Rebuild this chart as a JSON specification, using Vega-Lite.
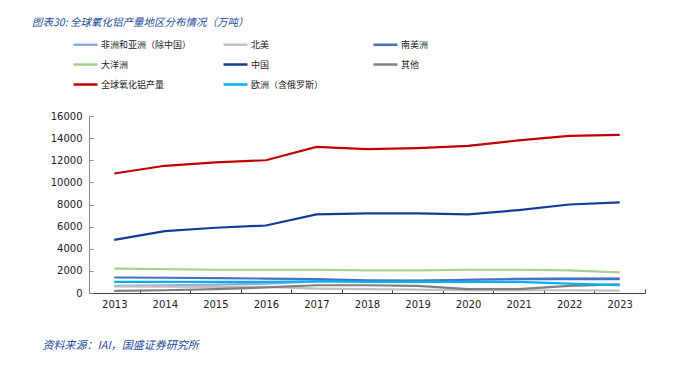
{
  "$schema": "https://vega.github.io/schema/vega-lite/v6.json",
  "width": 556,
  "height": 177,
  "autosize": {"type": "none"},
  "padding": {"left": 89, "top": 116, "right": 43, "bottom": 74},
  "background": "white",
  "config": {"view": {"stroke": null}},
  "title": {
    "text": "图表30: 全球氧化铝产量地区分布情况（万吨）",
    "anchor": "start",
    "frame": "group",
    "orient": "top",
    "dx": -57,
    "offset": -2,
    "baseline": "middle",
    "font": "Noto Sans CJK SC",
    "fontSize": 10.5,
    "fontStyle": "italic",
    "fontWeight": "normal",
    "color": "#1F4E99"
  },
  "datasets": {
    "rows": [
      {"year": "2013", "region": "非洲和亚洲（除中国）", "value": 650},
      {"year": "2014", "region": "非洲和亚洲（除中国）", "value": 700},
      {"year": "2015", "region": "非洲和亚洲（除中国）", "value": 750},
      {"year": "2016", "region": "非洲和亚洲（除中国）", "value": 850},
      {"year": "2017", "region": "非洲和亚洲（除中国）", "value": 1050},
      {"year": "2018", "region": "非洲和亚洲（除中国）", "value": 1100},
      {"year": "2019", "region": "非洲和亚洲（除中国）", "value": 1150},
      {"year": "2020", "region": "非洲和亚洲（除中国）", "value": 1200},
      {"year": "2021", "region": "非洲和亚洲（除中国）", "value": 1300},
      {"year": "2022", "region": "非洲和亚洲（除中国）", "value": 1350},
      {"year": "2023", "region": "非洲和亚洲（除中国）", "value": 1350},
      {"year": "2013", "region": "北美", "value": 600},
      {"year": "2014", "region": "北美", "value": 580},
      {"year": "2015", "region": "北美", "value": 550},
      {"year": "2016", "region": "北美", "value": 550},
      {"year": "2017", "region": "北美", "value": 400},
      {"year": "2018", "region": "北美", "value": 350},
      {"year": "2019", "region": "北美", "value": 300},
      {"year": "2020", "region": "北美", "value": 250},
      {"year": "2021", "region": "北美", "value": 250},
      {"year": "2022", "region": "北美", "value": 250},
      {"year": "2023", "region": "北美", "value": 210},
      {"year": "2013", "region": "南美洲", "value": 1400},
      {"year": "2014", "region": "南美洲", "value": 1380},
      {"year": "2015", "region": "南美洲", "value": 1350},
      {"year": "2016", "region": "南美洲", "value": 1300},
      {"year": "2017", "region": "南美洲", "value": 1250},
      {"year": "2018", "region": "南美洲", "value": 1150},
      {"year": "2019", "region": "南美洲", "value": 1100},
      {"year": "2020", "region": "南美洲", "value": 1200},
      {"year": "2021", "region": "南美洲", "value": 1250},
      {"year": "2022", "region": "南美洲", "value": 1250},
      {"year": "2023", "region": "南美洲", "value": 1250},
      {"year": "2013", "region": "大洋洲", "value": 2200},
      {"year": "2014", "region": "大洋洲", "value": 2150},
      {"year": "2015", "region": "大洋洲", "value": 2100},
      {"year": "2016", "region": "大洋洲", "value": 2100},
      {"year": "2017", "region": "大洋洲", "value": 2100},
      {"year": "2018", "region": "大洋洲", "value": 2050},
      {"year": "2019", "region": "大洋洲", "value": 2050},
      {"year": "2020", "region": "大洋洲", "value": 2100},
      {"year": "2021", "region": "大洋洲", "value": 2100},
      {"year": "2022", "region": "大洋洲", "value": 2050},
      {"year": "2023", "region": "大洋洲", "value": 1870},
      {"year": "2013", "region": "中国", "value": 4800},
      {"year": "2014", "region": "中国", "value": 5600},
      {"year": "2015", "region": "中国", "value": 5900},
      {"year": "2016", "region": "中国", "value": 6100},
      {"year": "2017", "region": "中国", "value": 7100},
      {"year": "2018", "region": "中国", "value": 7200},
      {"year": "2019", "region": "中国", "value": 7200},
      {"year": "2020", "region": "中国", "value": 7100},
      {"year": "2021", "region": "中国", "value": 7500},
      {"year": "2022", "region": "中国", "value": 8000},
      {"year": "2023", "region": "中国", "value": 8200},
      {"year": "2013", "region": "其他", "value": 200},
      {"year": "2014", "region": "其他", "value": 250},
      {"year": "2015", "region": "其他", "value": 350},
      {"year": "2016", "region": "其他", "value": 500},
      {"year": "2017", "region": "其他", "value": 700},
      {"year": "2018", "region": "其他", "value": 700},
      {"year": "2019", "region": "其他", "value": 650},
      {"year": "2020", "region": "其他", "value": 350},
      {"year": "2021", "region": "其他", "value": 350},
      {"year": "2022", "region": "其他", "value": 650},
      {"year": "2023", "region": "其他", "value": 780},
      {"year": "2013", "region": "全球氧化铝产量", "value": 10800},
      {"year": "2014", "region": "全球氧化铝产量", "value": 11500},
      {"year": "2015", "region": "全球氧化铝产量", "value": 11800},
      {"year": "2016", "region": "全球氧化铝产量", "value": 12000},
      {"year": "2017", "region": "全球氧化铝产量", "value": 13200},
      {"year": "2018", "region": "全球氧化铝产量", "value": 13000},
      {"year": "2019", "region": "全球氧化铝产量", "value": 13100},
      {"year": "2020", "region": "全球氧化铝产量", "value": 13300},
      {"year": "2021", "region": "全球氧化铝产量", "value": 13800},
      {"year": "2022", "region": "全球氧化铝产量", "value": 14200},
      {"year": "2023", "region": "全球氧化铝产量", "value": 14300},
      {"year": "2013", "region": "欧洲（含俄罗斯）", "value": 1000},
      {"year": "2014", "region": "欧洲（含俄罗斯）", "value": 1000},
      {"year": "2015", "region": "欧洲（含俄罗斯）", "value": 1000},
      {"year": "2016", "region": "欧洲（含俄罗斯）", "value": 1000},
      {"year": "2017", "region": "欧洲（含俄罗斯）", "value": 1050},
      {"year": "2018", "region": "欧洲（含俄罗斯）", "value": 1000},
      {"year": "2019", "region": "欧洲（含俄罗斯）", "value": 1000},
      {"year": "2020", "region": "欧洲（含俄罗斯）", "value": 1000},
      {"year": "2021", "region": "欧洲（含俄罗斯）", "value": 1000},
      {"year": "2022", "region": "欧洲（含俄罗斯）", "value": 850},
      {"year": "2023", "region": "欧洲（含俄罗斯）", "value": 720}
    ]
  },
  "data": {"name": "rows"},
  "mark": {"type": "line", "strokeWidth": 2.2},
  "encoding": {
    "x": {
      "field": "year",
      "type": "ordinal",
      "bandPosition": 0.5,
      "scale": {"type": "band", "paddingInner": 0, "paddingOuter": 0},
      "axis": {
        "tickBand": "extent",
        "labelAngle": 0,
        "labelFont": "DejaVu Sans",
        "labelFontSize": 10,
        "labelColor": "#222222",
        "labelPadding": 10,
        "domainColor": "#404040",
        "tickColor": "#404040",
        "tickSize": -4,
        "grid": false,
        "title": "资料来源：IAI，国盛证券研究所",
        "titleFont": "Noto Sans CJK SC",
        "titleFontSize": 11,
        "titleFontStyle": "italic",
        "titleFontWeight": "normal",
        "titleColor": "#1F4E99",
        "titleX": -47,
        "titleY": 52,
        "titleAlign": "left",
        "titleBaseline": "middle"
      }
    },
    "y": {
      "field": "value",
      "type": "quantitative",
      "scale": {"domain": [0, 16000], "nice": false},
      "axis": {
        "values": [0, 2000, 4000, 6000, 8000, 10000, 12000, 14000, 16000],
        "format": "d",
        "labelFont": "DejaVu Sans",
        "labelFontSize": 10,
        "labelColor": "#222222",
        "labelPadding": 11,
        "domainColor": "#898989",
        "tickColor": "#898989",
        "tickSize": -4,
        "grid": false,
        "title": null
      }
    },
    "color": {
      "field": "region",
      "type": "nominal",
      "sort": null,
      "scale": {
        "domain": ["非洲和亚洲（除中国）", "北美", "南美洲", "大洋洲", "中国", "其他", "全球氧化铝产量", "欧洲（含俄罗斯）"],
        "range": ["#8FAADC", "#C0C0C0", "#4472C4", "#A9D18E", "#123C99", "#7F7F7F", "#C00000", "#00B0F0"]
      },
      "legend": {
        "orient": "none",
        "legendX": -17,
        "legendY": -85,
        "direction": "horizontal",
        "columns": 3,
        "gridAlign": "all",
        "columnPadding": 26,
        "rowPadding": 1,
        "symbolType": "stroke",
        "symbolSize": 576,
        "symbolStrokeWidth": 2.5,
        "labelFont": "Noto Sans CJK SC",
        "labelFontSize": 9,
        "labelColor": "#222222",
        "labelOffset": 2,
        "labelLimit": 300,
        "title": null
      }
    }
  }
}
